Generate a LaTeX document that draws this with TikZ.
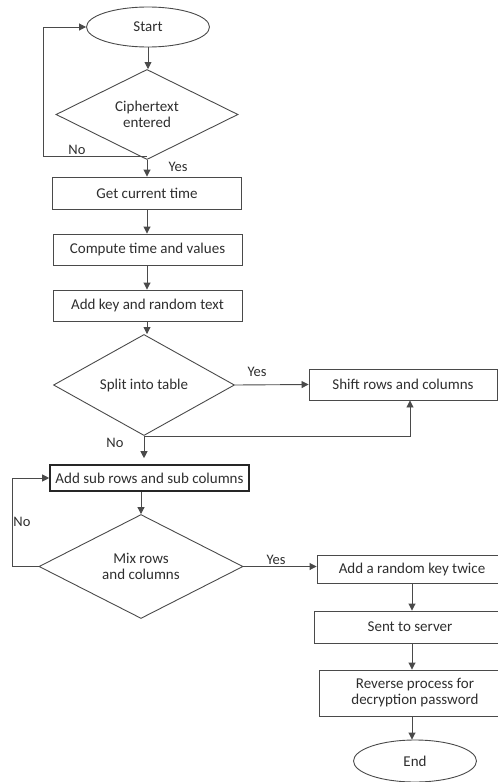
\documentclass[tikz,border=0pt]{standalone}
\usepackage{fontspec}
\setmainfont{Carlito}
\usetikzlibrary{shapes.geometric,arrows.meta}
\definecolor{ln}{HTML}{4A4A4A}
\definecolor{tx}{HTML}{2E2E2E}
\begin{document}
\begin{tikzpicture}[x=1pt,y=-1pt,
  font=\fontsize{15}{16}\selectfont, text=tx,
  every node/.style={text=tx},
  term/.style={ellipse,draw=ln,line width=0.9pt,inner sep=0pt,minimum width=123pt,minimum height=40pt},
  dec/.style={diamond,draw=ln,line width=0.9pt,inner sep=0pt,align=center},
  proc/.style={rectangle,draw=ln,line width=0.9pt,inner sep=0pt,align=center},
  arr/.style={draw=ln,line width=0.9pt,-{Triangle[length=7pt,width=7pt]}},
  ln/.style={draw=ln,line width=0.9pt},
  lab/.style={inner sep=0pt,font=\fontsize{14.5}{16}\selectfont}]
\useasboundingbox (0,0) rectangle (498,782);
\clip (0,0) rectangle (498,782);

% nodes
\node[term] (start) at (148,27) {Start};
\node[dec,minimum width=182pt,minimum height=77pt] (d1) at (147,114.5) {Ciphertext\\entered};
\node[proc,minimum width=189pt,minimum height=32pt] (b1) at (147,193) {Get current time};
\node[proc,minimum width=189pt,minimum height=31pt] (b2) at (147.5,249.5) {Compute time and values};
\node[proc,minimum width=189pt,minimum height=31pt] (b3) at (147.5,305.5) {Add key and random text};
\node[dec,minimum width=181pt,minimum height=76pt] (d2) at (144,385) {Split into table};
\node[proc,minimum width=188pt,minimum height=31pt] (shift) at (403,384.5) {Shift rows and columns};
\node[proc,draw=black!85,line width=1.6pt,minimum width=199pt,minimum height=26pt] (sub) at (149.5,478) {Add sub rows and sub columns};
\node[dec,minimum width=204pt,minimum height=83pt] (d3) at (141,566.5) {Mix rows\\and columns};
\node[proc,minimum width=190pt,minimum height=28pt] (key) at (412,569) {Add a random key twice};
\node[proc,minimum width=192pt,minimum height=32pt] (sent) at (410,627) {Sent to server};
\node[proc,minimum width=192pt,minimum height=46pt] (rev) at (415,693) {Reverse process for\\decryption password};
\node[term,minimum height=42pt] (end) at (415,761) {End};

% helper coordinates
\coordinate (j1) at (147,156);
\coordinate (c1) at (43,156);
\coordinate (j2) at (144,436);
\coordinate (c2) at (410,436);
\coordinate (c3) at (12,566.5);
\coordinate (xr) at (412,0);

% connectors
\draw[arr] (start.south) -- (start.south |- d1.north);
\draw[arr] (d1.south) -- (b1.north);
\draw[arr] (j1) -- (c1) |- (start.west);
\draw[arr] (b1.south -| d1.south) -- (b2.north -| d1.south);
\draw[arr] (b2.south -| d1.south) -- (b3.north -| d1.south);
\draw[arr] (b3.south -| d1.south) -- (d2.north -| d1.south);
\draw[arr] (d2.east) -- (shift.west);
\draw[arr] (d2.south) -- ([yshift=6pt]d2.south |- sub.north);
\draw[arr] (j2) -- (c2) -- (c2 |- shift.south);
\draw[arr] (sub.south -| d3.north) -- (d3.north);
\draw[arr] (d3.west) -- (c3) |- (sub.west);
\draw[arr] (d3.east) -- (d3.east -| key.west);
\draw[arr] (key.south -| xr) -- (sent.north -| xr);
\draw[arr] (sent.south -| xr) -- (rev.north -| xr);
\draw[arr] (rev.south -| xr) -- (end.north -| xr);

% labels
\node[lab] (n1) at (77,150) {No};
\node[lab] (y1) at (178,167) {Yes};
\node[lab] (y2) at (257,372) {Yes};
\node[lab] (n2) at (115,443) {No};
\node[lab] (n3) at (22,522) {No};
\node[lab] (y3) at (276,560) {Yes};
\end{tikzpicture}
\end{document}
